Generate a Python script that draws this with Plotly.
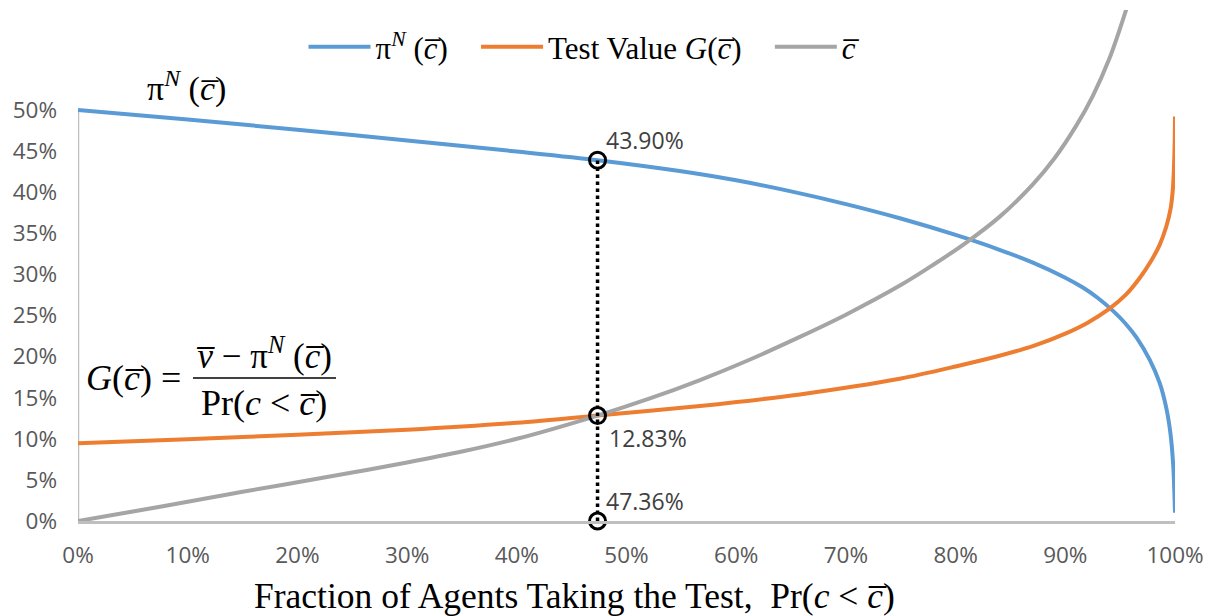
import plotly.graph_objects as go

# ---- data (percent units) ----
pi_x = [0, 10, 20, 30, 40, 47.36, 55, 60, 65, 70, 75, 80, 84, 87.1, 90, 91.6, 93, 94.4, 95.5, 96.5, 97.7, 98.6, 99.2, 99.6, 99.85, 100]
pi_y = [50.0, 48.85, 47.6, 46.3, 44.95, 43.90, 42.55, 41.45, 40.1, 38.55, 36.8, 34.8, 33.0, 31.4, 29.6, 28.4, 27.1, 25.5, 24.0, 22.3, 19.6, 16.8, 13.8, 10.5, 6.5, 1.0]

g_x = [0, 10, 20, 30, 40, 47.36, 56.7, 65.8, 74.9, 80, 84, 87.1, 90, 92, 94, 95.5, 96.8, 97.8, 98.6, 99.2, 99.6, 99.8, 99.9, 99.97, 100]
g_y = [9.46, 9.95, 10.5, 11.1, 11.95, 12.83, 14.0, 15.4, 17.3, 18.8, 20.1, 21.3, 22.8, 24.1, 25.8, 27.5, 29.6, 31.6, 33.6, 35.8, 38.0, 40.3, 42.8, 46.0, 49.2]

c_x = [0, 5, 10, 15, 20, 25, 30, 35, 40, 47.36, 52, 56.7, 61, 65.8, 70, 75, 78, 81, 84, 87, 89, 91, 92.5, 94, 95.4, 96.3]
c_y = [0, 1.15, 2.35, 3.55, 4.72, 5.9, 7.12, 8.45, 10.0, 12.83, 14.85, 17.15, 19.5, 22.4, 25.1, 28.7, 31.2, 33.9, 37.0, 40.9, 44.1, 48.1, 51.7, 56.2, 61.6, 65.5]

mark_x = [47.36, 47.36, 47.36]
mark_y = [0, 12.83, 43.90]
mark_labels = ["47.36%", "12.83%", "43.90%"]

x_ticks = list(range(0, 101, 10))
y_ticks = list(range(0, 51, 5))

OV = "\u0305"
cbar = "<i>c" + OV + "</i>"
GAP = "\u00a0\u00a0\u00a0"

BLUE = "#5B9BD5"
ORANGE = "#ED7D31"
GRAY = "#A5A5A5"
AXIS = "#BFBFBF"
SERIF = "Liberation Serif"
SANS = "Open Sans"

fig = go.Figure()
fig.add_trace(go.Scatter(x=pi_x, y=pi_y, mode="lines", name="\u03c0<sup><i>N</i></sup> (" + cbar + ")" + GAP,
                         line=dict(color=BLUE, width=4, shape="spline", smoothing=0.8)))
fig.add_trace(go.Scatter(x=g_x, y=g_y, mode="lines", name="Test Value <i>G</i>(" + cbar + ")" + GAP,
                         line=dict(color=ORANGE, width=4, shape="spline", smoothing=0.8)))
fig.add_trace(go.Scatter(x=c_x, y=c_y, mode="lines", name=cbar,
                         line=dict(color=GRAY, width=4, shape="spline", smoothing=1.0)))
fig.add_trace(go.Scatter(x=mark_x, y=mark_y, mode="lines+markers", showlegend=False, cliponaxis=False,
                         line=dict(color="black", width=3.5, dash="dot"),
                         marker=dict(symbol="circle-open", size=16, color="black", line=dict(width=3, color="black"))))

# y axis line only up to 50%
fig.add_shape(type="line", xref="x", yref="y", x0=0, x1=0, y0=0, y1=50,
              line=dict(color=AXIS, width=2.5), layer="below")

# point labels
shifts = [(6, 20), (9, -22), (6, 20)]
for xv, yv, lab, (dx, dy) in zip(mark_x, mark_y, mark_labels, shifts):
    fig.add_annotation(x=xv, y=yv, xref="x", yref="y", text=lab, showarrow=False,
                       xanchor="left", yanchor="middle", xshift=dx, yshift=dy,
                       font=dict(family=SANS, size=23, color="#404040"))

# top-left label
fig.add_annotation(xref="paper", yref="paper", x=(145 - 78) / 1097, y=(521 - 86) / 511,
                   text="\u03c0<sup><i>N</i></sup> (" + cbar + ")", showarrow=False,
                   xanchor="left", yanchor="middle", font=dict(family=SERIF, size=34, color="black"))

# formula G(c) = (v - pi^N(c)) / Pr(c < c)
fig.add_annotation(xref="paper", yref="paper", x=(84 - 78) / 1097, y=(521 - 378) / 511,
                   text="<i>G</i>(" + cbar + ") =", showarrow=False,
                   xanchor="left", yanchor="middle", font=dict(family=SERIF, size=36, color="black"))
fig.add_annotation(xref="paper", yref="paper", x=(264 - 78) / 1097, y=(521 - 353) / 511,
                   text="<i>v" + OV + "</i> \u2212 \u03c0<sup><i>N</i></sup> (" + cbar + ")", showarrow=False,
                   xanchor="center", yanchor="middle", font=dict(family=SERIF, size=35, color="black"))
fig.add_annotation(xref="paper", yref="paper", x=(264 - 78) / 1097, y=(521 - 403) / 511,
                   text="Pr(<i>c</i> &lt; " + cbar + ")", showarrow=False,
                   xanchor="center", yanchor="middle", font=dict(family=SERIF, size=36, color="black"))
fig.add_shape(type="line", xref="paper", yref="paper",
              x0=(193 - 78) / 1097, x1=(336 - 78) / 1097, y0=(521 - 378) / 511, y1=(521 - 378) / 511,
              line=dict(color="black", width=1.5))

# x-axis title
fig.add_annotation(xref="paper", yref="paper", x=(252 - 78) / 1097, y=(521 - 596) / 511,
                   text="Fraction of Agents Taking the Test,  Pr(<i>c</i> &lt; " + cbar + ")", showarrow=False,
                   xanchor="left", yanchor="middle", font=dict(family=SERIF, size=35.5, color="black"))

# page has an 8px body margin: the figure is 8px smaller and margins are shifted accordingly
fig.update_layout(
    width=1206, height=608,
    margin=dict(l=70, r=39, t=2, b=95),
    paper_bgcolor="white", plot_bgcolor="white",
    showlegend=True,
    legend=dict(orientation="h", x=(584 - 78) / 1097, xanchor="center", y=(521 - 47) / 511, yanchor="middle",
                font=dict(family=SERIF, size=31, color="black"), bgcolor="rgba(0,0,0,0)",
                itemwidth=62, tracegroupgap=0),
    xaxis=dict(range=[0, 100], tickvals=x_ticks, ticktext=[f"{v}%" for v in x_ticks],
               showgrid=False, zeroline=False, showline=True, linecolor=AXIS, linewidth=2.5,
               ticks="", ticklabelstandoff=12,
               tickfont=dict(family=SANS, size=22.5, color="#595959")),
    yaxis=dict(range=[0, 62.17], tickvals=y_ticks, ticktext=[f"{v}%" for v in y_ticks],
               showgrid=False, zeroline=False, showline=False,
               ticks="", ticklabelstandoff=20,
               tickfont=dict(family=SANS, size=22.5, color="#595959")),
)

fig.write_html("out.html")
